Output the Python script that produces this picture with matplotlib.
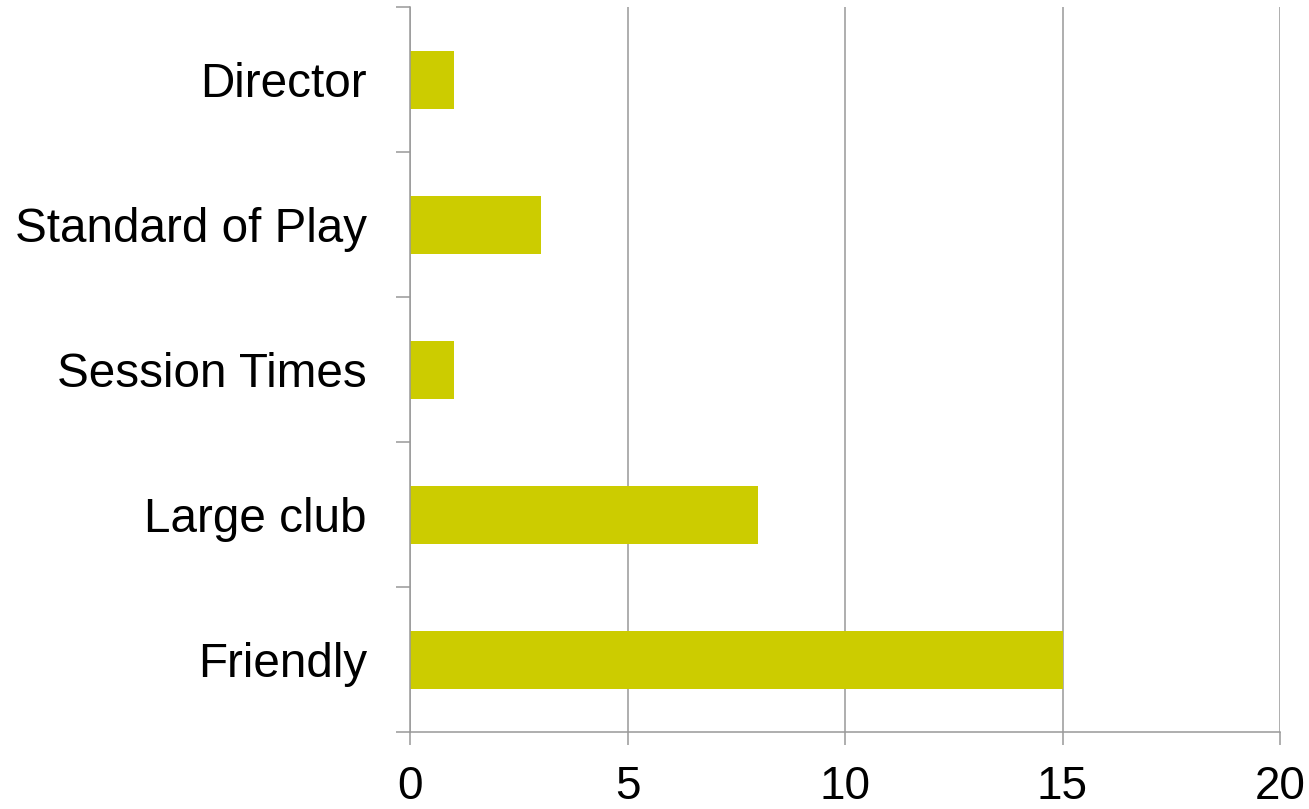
import matplotlib
matplotlib.use("Agg")
import matplotlib.pyplot as plt
from matplotlib.ticker import FixedLocator

categories = ["Friendly", "Large club", "Session Times", "Standard of Play", "Director"]
values = [15, 8, 1, 3, 1]
x_ticks = [0, 5, 10, 15, 20]

plt.rcParams['font.family'] = ['Liberation Sans', 'DejaVu Sans']

fig = plt.figure(figsize=(13.09, 8.09), dpi=100)
ax = fig.add_axes([410/1309, 1-732/809, (1280-410)/1309, (732-7.5)/809])

grey = "#999999"
ypos = list(range(len(categories)))
ax.barh(ypos, values, height=0.4, color="#CCCC00", zorder=3)

ax.set_xlim(0, 20)
ax.set_ylim(-0.5, len(categories) - 0.5)
ax.set_xticks(x_ticks)
ax.set_xticklabels([str(t) for t in x_ticks], fontsize=33)
ax.set_yticks(ypos)
ax.set_yticklabels(categories, fontsize=34.3)
ax.yaxis.set_minor_locator(FixedLocator([i - 0.5 for i in range(len(categories) + 1)]))

ax.tick_params(axis='y', which='major', length=0, pad=31)
ax.tick_params(axis='y', which='minor', length=10, width=1.1, color=grey, direction='out')
ax.tick_params(axis='x', which='major', length=9.5, width=1.1, color=grey, direction='out', pad=14)

ax.xaxis.grid(True, color=grey, linewidth=1.1, zorder=0)
ax.set_axisbelow(True)

for s in ['top', 'right']:
    ax.spines[s].set_visible(False)
for s in ['left', 'bottom']:
    ax.spines[s].set_color(grey)
    ax.spines[s].set_linewidth(1.1)
    ax.spines[s].set_zorder(4)

fig.savefig("out.png", dpi=100)
